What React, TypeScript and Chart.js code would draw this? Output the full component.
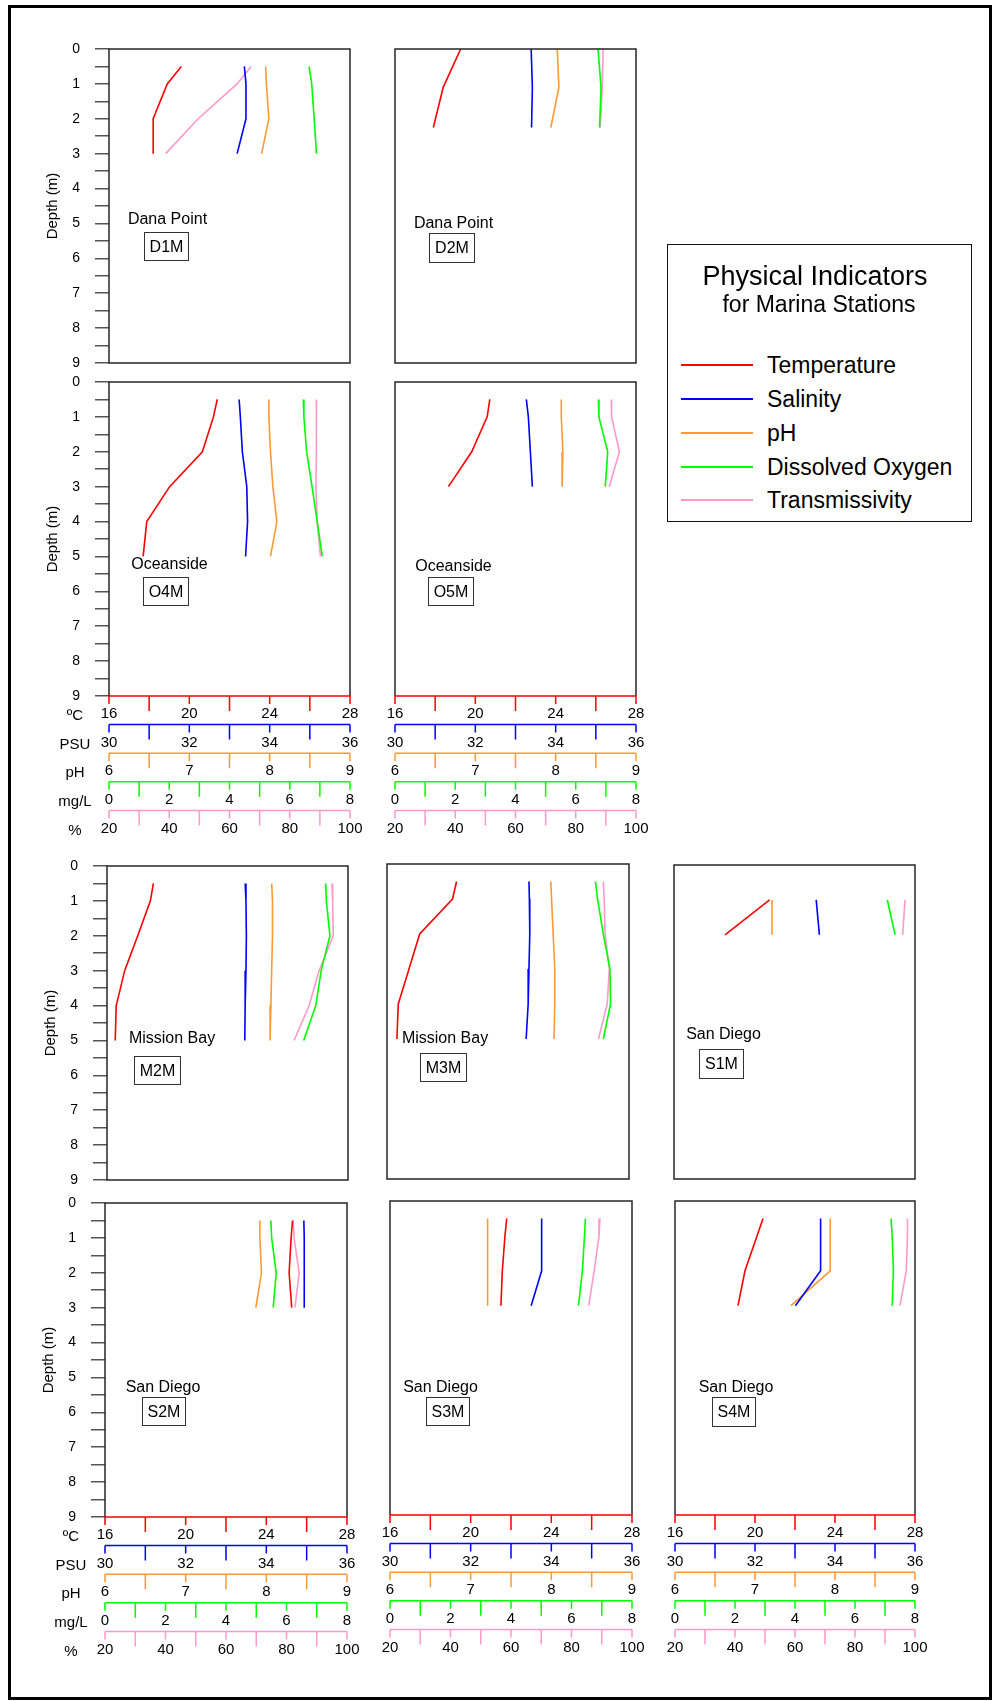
import React, { useEffect, useRef } from "react";
import { Chart, registerables } from "chart.js";
Chart.register(...registerables);

const FONT = "'Liberation Sans', Arial, Helvetica, sans-serif";
const FRAME = "#262626";
const AXIS_H = 28.6;

// ---------- series (legend order) ----------
const seriesKeys = ["temp", "sal", "ph", "do", "tr"];
const seriesNames = ["Temperature", "Salinity", "pH", "Dissolved Oxygen", "Transmissivity"];
const seriesColors = ["#ff0000", "#0000ff", "#ff9933", "#00ff00", "#ff99cc"];

// ---------- bottom axes ----------
const axisUnits = ["ºC", "PSU", "pH", "mg/L", "%"];
const axisMin = [16, 30, 6, 0, 20];
const axisMax = [28, 36, 9, 8, 100];
const axisStep = [2, 1, 0.5, 1, 10];
const tempTickLabels = [16, 20, 24, 28];
const salTickLabels = [30, 32, 34, 36];
const phTickLabels = [6, 7, 8, 9];
const doTickLabels = [0, 2, 4, 6, 8];
const trTickLabels = [20, 40, 60, 80, 100];
const axisTickLabels = [tempTickLabels, salTickLabels, phTickLabels, doTickLabels, trTickLabels];

// ---------- depth axis ----------
const depthMin = 0;
const depthMax = 9;
const depthStep = 0.5;
const depthTickLabels = [0, 1, 2, 3, 4, 5, 6, 7, 8, 9];

// ---------- stations ----------
const stationIds = ["D1M", "D2M", "O4M", "O5M", "M2M", "M3M", "S1M", "S2M", "S3M", "S4M"];
const stationPlaces = ["Dana Point", "Dana Point", "Oceanside", "Oceanside", "Mission Bay", "Mission Bay", "San Diego", "San Diego", "San Diego", "San Diego"];

const D1M_depth = [0.5, 1, 2, 3];
const D1M_temp = [19.6, 18.9, 18.2, 18.2];
const D1M_sal = [33.37, 33.41, 33.41, 33.19];
const D1M_ph = [7.95, 7.96, 7.99, 7.9];
const D1M_do = [6.64, 6.73, 6.81, 6.89];
const D1M_tr = [67.2, 62.5, 49.6, 38.8];

const D2M_depth = [0, 1.1, 2.25];
const D2M_temp = [19.27, 18.4, 17.91];
const D2M_sal = [33.39, 33.42, 33.4];
const D2M_ph = [8.02, 8.04, 7.94];
const D2M_do = [6.74, 6.84, 6.79];
const D2M_tr = [89.1, 88.8, 88.1];

const O4M_depth = [0.5, 1, 2, 3, 4, 5];
const O4M_temp = [21.39, 21.2, 20.65, 19.02, 17.88, 17.7];
const O4M_sal = [33.24, 33.27, 33.32, 33.43, 33.45, 33.4];
const O4M_ph = [7.99, 7.99, 8.01, 8.04, 8.09, 8.01];
const O4M_do = [6.45, 6.47, 6.56, 6.74, 6.91, 7.08];
const O4M_tr = [88.9, 88.9, 88.8, 88.7, 89.1, 90.2];

const O5M_depth = [0.5, 1, 2, 3];
const O5M_temp = [20.72, 20.59, 19.82, 18.66];
const O5M_sal = [33.27, 33.32, 33.37, 33.42];
const O5M_ph = [8.07, 8.07, 8.09, 8.08];
const O5M_do = [6.75, 6.77, 7.06, 6.98];
const O5M_tr = [91.8, 91.9, 94.5, 91.1];

const M2M_depth = [0.5, 1, 2, 3, 4, 5];
const M2M_temp = [18.31, 18.16, 17.53, 16.88, 16.46, 16.41];
const M2M_sal = [33.44, 33.46, 33.47, 33.46, 33.44, 33.43];
const M2M_ph = [8.05, 8.06, 8.06, 8.05, 8.04, 8.03];
const M2M_do = [7.26, 7.28, 7.4, 7.11, 6.93, 6.53];
const M2M_tr = [94.7, 94.9, 95.1, 90.4, 87.1, 82.1];

const M3M_depth = [0.5, 1, 2, 3, 4, 5];
const M3M_temp = [19.45, 19.25, 17.62, 17.09, 16.56, 16.49];
const M3M_sal = [33.52, 33.53, 33.54, 33.52, 33.5, 33.45];
const M3M_ph = [8.03, 8.04, 8.06, 8.08, 8.08, 8.07];
const M3M_do = [6.89, 6.96, 7.15, 7.37, 7.39, 7.15];
const M3M_tr = [91.5, 91.8, 92.1, 93.5, 92.8, 89.9];

const S1M_depth = [1, 2];
const S1M_temp = [20.76, 18.54];
const S1M_sal = [33.54, 33.62];
const S1M_ph = [7.22, 7.22];
const S1M_do = [7.08, 7.34];
const S1M_tr = [96.7, 95.9];

const S2M_depth = [0.5, 1, 2, 3];
const S2M_temp = [25.3, 25.23, 25.13, 25.26];
const S2M_sal = [34.93, 34.94, 34.94, 34.94];
const S2M_ph = [7.92, 7.92, 7.94, 7.87];
const S2M_do = [5.48, 5.51, 5.66, 5.56];
const S2M_tr = [82.2, 82.5, 84.2, 82.8];

const S3M_depth = [0.5, 1, 2, 3];
const S3M_temp = [21.79, 21.7, 21.57, 21.5];
const S3M_sal = [33.76, 33.76, 33.76, 33.5];
const S3M_ph = [7.21, 7.21, 7.21, 7.21];
const S3M_do = [6.46, 6.43, 6.36, 6.23];
const S3M_tr = [89.4, 89.1, 87.5, 85.7];

const S4M_depth = [0.5, 1, 2, 3];
const S4M_temp = [20.4, 20.1, 19.5, 19.15];
const S4M_sal = [33.64, 33.64, 33.64, 33.01];
const S4M_ph = [7.94, 7.94, 7.94, 7.45];
const S4M_do = [7.2, 7.24, 7.28, 7.24];
const S4M_tr = [97.5, 97.5, 97.1, 95.0];

const stationDepths: Record<string, number[]> = {
  D1M: D1M_depth, D2M: D2M_depth, O4M: O4M_depth, O5M: O5M_depth, M2M: M2M_depth,
  M3M: M3M_depth, S1M: S1M_depth, S2M: S2M_depth, S3M: S3M_depth, S4M: S4M_depth,
};
const stationValues: Record<string, number[][]> = {
  D1M: [D1M_temp, D1M_sal, D1M_ph, D1M_do, D1M_tr],
  D2M: [D2M_temp, D2M_sal, D2M_ph, D2M_do, D2M_tr],
  O4M: [O4M_temp, O4M_sal, O4M_ph, O4M_do, O4M_tr],
  O5M: [O5M_temp, O5M_sal, O5M_ph, O5M_do, O5M_tr],
  M2M: [M2M_temp, M2M_sal, M2M_ph, M2M_do, M2M_tr],
  M3M: [M3M_temp, M3M_sal, M3M_ph, M3M_do, M3M_tr],
  S1M: [S1M_temp, S1M_sal, S1M_ph, S1M_do, S1M_tr],
  S2M: [S2M_temp, S2M_sal, S2M_ph, S2M_do, S2M_tr],
  S3M: [S3M_temp, S3M_sal, S3M_ph, S3M_do, S3M_tr],
  S4M: [S4M_temp, S4M_sal, S4M_ph, S4M_do, S4M_tr],
};

// ---------- layout (page pixels) ----------
type PanelLayout = {
  id: string; L: number; T: number; R: number; B: number;
  yAxis: boolean; xAxes: boolean;
  tx: number; ty: number; bx: number; by: number; bw: number; bh: number;
};
const PANELS: PanelLayout[] = [
  { id: "D1M", L: 109, T: 49, R: 350, B: 363, yAxis: true, xAxes: false, tx: 167.5, ty: 219, bx: 144, by: 232, bw: 45, bh: 29 },
  { id: "D2M", L: 395, T: 49, R: 636, B: 363, yAxis: false, xAxes: false, tx: 453.5, ty: 222.5, bx: 429, by: 233, bw: 46, bh: 30 },
  { id: "O4M", L: 109, T: 382, R: 350, B: 696, yAxis: true, xAxes: true, tx: 169.5, ty: 564, bx: 143, by: 577, bw: 46, bh: 29 },
  { id: "O5M", L: 395, T: 382, R: 636, B: 696, yAxis: false, xAxes: true, tx: 453.5, ty: 565.5, bx: 428, by: 577, bw: 46, bh: 29 },
  { id: "M2M", L: 107, T: 866, R: 348, B: 1180, yAxis: true, xAxes: false, tx: 172, ty: 1038, bx: 134, by: 1056, bw: 47, bh: 29 },
  { id: "M3M", L: 387, T: 864, R: 629, B: 1179, yAxis: false, xAxes: false, tx: 445, ty: 1038, bx: 420, by: 1053, bw: 47, bh: 29 },
  { id: "S1M", L: 674, T: 865, R: 915, B: 1179, yAxis: false, xAxes: false, tx: 723.5, ty: 1034, bx: 699, by: 1049, bw: 45, bh: 30 },
  { id: "S2M", L: 105, T: 1203, R: 347, B: 1517, yAxis: true, xAxes: true, tx: 163, ty: 1387, bx: 142, by: 1397, bw: 44, bh: 29 },
  { id: "S3M", L: 390, T: 1201, R: 632, B: 1515, yAxis: false, xAxes: true, tx: 440.5, ty: 1387, bx: 426, by: 1397, bw: 44, bh: 29 },
  { id: "S4M", L: 675, T: 1201, R: 915, B: 1515, yAxis: false, xAxes: true, tx: 736, ty: 1387, bx: 712, by: 1397, bw: 44, bh: 30 },
];

const Y_W = 70;
const PAD = 30;
const PAD_T = 28;

function Panel({ p }: { p: PanelLayout }) {
  const ref = useRef<HTMLCanvasElement>(null);
  const left = p.yAxis ? p.L - Y_W : p.L - PAD;
  const top = p.T - PAD_T;
  const w = p.R - left + PAD;
  const padB = p.xAxes ? 20 : 28;
  const h = p.B - top + (p.xAxes ? 5 * AXIS_H : 0) + padB;

  useEffect(() => {
    if (!ref.current) return;
    const depth = stationDepths[p.id];
    const vals = stationValues[p.id];
    const datasets = seriesKeys.map((k, i) => ({
      label: seriesNames[i],
      data: depth.map((d, j) => ({ x: vals[i][j], y: d })),
      xAxisID: k,
      yAxisID: "y",
      showLine: true,
      borderColor: seriesColors[i],
      backgroundColor: seriesColors[i],
      borderWidth: 1.6,
      pointRadius: 0,
      pointHoverRadius: 0,
      tension: 0,
      fill: false,
    }));

    const yScale: any = {
      type: "linear",
      position: "left",
      reverse: true,
      min: depthMin,
      max: depthMax,
      display: p.yAxis,
      ticks: {
        stepSize: depthStep,
        maxTicksLimit: 1000,
        autoSkip: false,
        padding: 15,
        color: "#000",
        font: { size: 14, family: FONT },
        callback: (v: any) => (depthTickLabels.includes(Number(v)) ? String(v) : ""),
      },
      grid: { display: true, drawOnChartArea: false, drawTicks: true, tickLength: 14, color: "#555", lineWidth: 1.5 },
      border: { display: false },
      title: { display: true, text: "Depth (m)", color: "#000", font: { size: 15, family: FONT }, padding: { top: 5, bottom: 0 } },
    };
    if (p.yAxis) yScale.afterFit = (s: any) => { s.width = Y_W; };
    const scales: any = { y: yScale };
    seriesKeys.forEach((k, i) => {
      const sc: any = {
        type: "linear",
        axis: "x",
        position: "bottom",
        weight: i + 1,
        min: axisMin[i],
        max: axisMax[i],
        display: p.xAxes,
        grid: { display: false, drawTicks: false, drawOnChartArea: false },
        border: { display: false },
        ticks: {
          stepSize: axisStep[i],
          maxTicksLimit: 1000,
          autoSkip: false,
          maxRotation: 0,
          minRotation: 0,
          padding: 9,
          color: "#000",
          font: { size: 15, family: FONT },
          callback: (v: any) => (axisTickLabels[i].some((t) => Math.abs(t - Number(v)) < 1e-9) ? String(v) : ""),
        },
      };
      if (p.xAxes) sc.afterFit = (s: any) => { s.height = AXIS_H; };
      scales[k] = sc;
    });

    const deco = {
      id: "deco",
      afterDraw(chart: any) {
        const ctx = chart.ctx;
        const a = chart.chartArea;
        ctx.save();
        ctx.lineWidth = 1.5;
        ctx.strokeStyle = FRAME;
        ctx.beginPath();
        ctx.moveTo(a.left, a.bottom);
        ctx.lineTo(a.left, a.top);
        ctx.lineTo(a.right, a.top);
        ctx.lineTo(a.right, a.bottom);
        if (!p.xAxes) ctx.closePath();
        ctx.stroke();
        if (p.xAxes) {
          seriesKeys.forEach((k, i) => {
            const s = chart.scales[k];
            const y0 = s.top;
            ctx.strokeStyle = seriesColors[i];
            ctx.lineWidth = 1.5;
            ctx.beginPath();
            ctx.moveTo(s.left, y0);
            ctx.lineTo(s.right, y0);
            s.ticks.forEach((t: any) => {
              const x = s.getPixelForValue(t.value);
              const len = t.label !== "" ? 8 : 15;
              ctx.moveTo(x, y0);
              ctx.lineTo(x, y0 + len);
            });
            ctx.stroke();
            if (p.yAxis) {
              ctx.fillStyle = "#000";
              ctx.font = `15px ${FONT}`;
              ctx.textAlign = "center";
              ctx.textBaseline = "middle";
              ctx.fillText(axisUnits[i], a.left - 34, y0 + 20);
            }
          });
        }
        ctx.restore();
      },
    };

    const chart = new Chart(ref.current, {
      type: "scatter",
      data: { datasets },
      options: {
        responsive: false,
        animation: false,
        devicePixelRatio: 1,
        layout: { autoPadding: false, padding: { left: p.yAxis ? 0 : PAD, right: PAD, top: PAD_T, bottom: padB } },
        plugins: { legend: { display: false }, tooltip: { enabled: false }, title: { display: false } },
        events: [],
        scales,
      } as any,
      plugins: [deco],
    });
    return () => chart.destroy();
  }, []);

  return (
    <canvas
      ref={ref}
      width={w}
      height={h}
      style={{ position: "absolute", left, top, width: w, height: h }}
    />
  );
}

function StationTag({ p, place }: { p: PanelLayout; place: string }) {
  return (
    <>
      <div
        style={{
          position: "absolute",
          left: p.tx - 80,
          top: p.ty - 9,
          width: 160,
          height: 18,
          lineHeight: "18px",
          textAlign: "center",
          fontSize: 16,
          fontFamily: FONT,
          color: "#000",
          whiteSpace: "nowrap",
        }}
      >
        {place}
      </div>
      <div
        style={{
          position: "absolute",
          left: p.bx,
          top: p.by,
          width: p.bw,
          height: p.bh,
          boxSizing: "border-box",
          border: "1.5px solid #333",
          display: "flex",
          alignItems: "center",
          justifyContent: "center",
          fontSize: 16,
          fontFamily: FONT,
          color: "#000",
        }}
      >
        {p.id}
      </div>
    </>
  );
}

function Legend() {
  const rowY = [365, 399, 433, 467, 500];
  return (
    <div>
      <div
        style={{
          position: "absolute",
          left: 667,
          top: 244,
          width: 305,
          height: 278,
          boxSizing: "border-box",
          border: "1.5px solid #111",
        }}
      />
      <div style={{ position: "absolute", left: 615, top: 276 - 16, width: 400, height: 32, lineHeight: "32px", textAlign: "center", fontSize: 27, fontFamily: FONT, color: "#000" }}>
        Physical Indicators
      </div>
      <div style={{ position: "absolute", left: 619, top: 304 - 14, width: 400, height: 28, lineHeight: "28px", textAlign: "center", fontSize: 23, fontFamily: FONT, color: "#000" }}>
        for Marina Stations
      </div>
      {seriesNames.map((n, i) => (
        <React.Fragment key={n}>
          <div style={{ position: "absolute", left: 681, top: rowY[i] - 1, width: 72, height: 2, background: seriesColors[i] }} />
          <div style={{ position: "absolute", left: 767, top: rowY[i] - 14, height: 28, lineHeight: "28px", fontSize: 23, fontFamily: FONT, color: "#000", whiteSpace: "nowrap" }}>
            {n}
          </div>
        </React.Fragment>
      ))}
    </div>
  );
}

export default function App() {
  return (
    <div
      style={{
        position: "absolute",
        left: 0,
        top: 0,
        width: 993,
        height: 1701,
        overflow: "hidden",
        background: "#fff",
      }}
    >
      <div
        style={{
          position: "absolute",
          left: 8,
          top: 5,
          width: 984,
          height: 1695,
          boxSizing: "border-box",
          border: "3px solid #000",
        }}
      />
      {PANELS.map((p) => (
        <Panel key={p.id} p={p} />
      ))}
      {PANELS.map((p) => (
        <StationTag key={p.id + "t"} p={p} place={stationPlaces[stationIds.indexOf(p.id)]} />
      ))}
      <Legend />
    </div>
  );
}
